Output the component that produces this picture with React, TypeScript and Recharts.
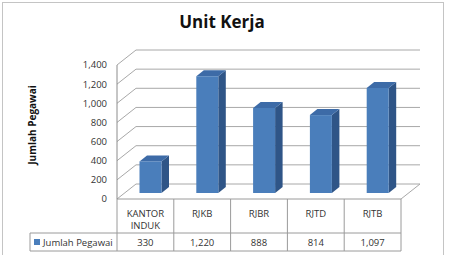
import React from "react";
import { ComposedChart, Bar, XAxis, YAxis, CartesianGrid } from "recharts";

const categories = ["KANTOR INDUK", "RJKB", "RJBR", "RJTD", "RJTB"];
const values = [330, 1220, 888, 814, 1097];
const yTicks = [0, 200, 400, 600, 800, 1000, 1200, 1400];
const seriesName = "Jumlah Pegawai";
const title = "Unit Kerja";

const data = categories.map((c, i) => ({ name: c, value: values[i] }));

const W = 449;
const H = 255;
const MARGIN = { top: 65, right: 48, bottom: 4, left: 27 };
const YAXIS_W = 90;
const XAXIS_H = 52;
const PLOT_LEFT = MARGIN.left + YAXIS_W;
const PLOT_RIGHT = W - MARGIN.right;
const PLOT_BOTTOM = H - MARGIN.bottom - XAXIS_H;
const BAND = (PLOT_RIGHT - PLOT_LEFT) / categories.length;
const DEPTH_X = 19;
const DEPTH_Y = 15;
const FONT = "'Open Sans', 'Liberation Sans', sans-serif";
const TEXT_COLOR = "#333";
const GRID = "#a8a8a8";
const AXIS = "#8c8c8c";
const TABLE_LINE = "#9a9a9a";
const FS = 9.5;

const fmt = (v: number) => v.toLocaleString("en-US");

const GridLine = (p: any) => {
  const { x1, y1, x2 } = p;
  const isFloor = Math.abs(y1 - PLOT_BOTTOM) < 0.6;
  let d = `M${x1},${y1} L${x1 + DEPTH_X},${y1 - DEPTH_Y} L${x2 + DEPTH_X},${y1 - DEPTH_Y}`;
  if (isFloor) d += ` L${x2},${y1}`;
  return <path key={p.key ?? `g-${y1}`} d={d} stroke={GRID} strokeWidth={1} fill="none" />;
};

const Bar3D = (p: any) => {
  const { x, y, width, height } = p;
  if (height == null || width == null) return null;
  const sx = 5.5;
  const sy = 6;
  const dx = 7.5;
  const dy = 6;
  const fx = x + sx;
  const fy = y - sy;
  return (
    <g>
      <polygon
        points={`${fx + width},${fy} ${fx + width + dx},${fy - dy} ${fx + width + dx},${fy + height - dy} ${fx + width},${fy + height}`}
        fill="#2f5587"
      />
      <polygon
        points={`${fx},${fy} ${fx + dx},${fy - dy} ${fx + width + dx},${fy - dy} ${fx + width},${fy}`}
        fill="#3d6ba7"
      />
      <rect x={fx} y={fy} width={width} height={height} fill="#4a7ebb" />
    </g>
  );
};

const TableTick = (props: any) => {
  const { x, y, payload } = props;
  const index = payload.index ?? props.index ?? 0;
  const half = BAND / 2;
  const left = x - half;
  const right = x + half;
  const tableRight = left + (categories.length - index) * BAND;
  const rowMid = y + 34;
  const rowBottom = y + 52;
  const lines = String(payload.value).split(" ");
  const legendLeft = 30;
  return (
    <g>
      {index === 0 && (
        <g>
          <line x1={legendLeft} y1={rowMid} x2={tableRight} y2={rowMid} stroke={TABLE_LINE} />
          <line x1={legendLeft} y1={rowBottom} x2={tableRight} y2={rowBottom} stroke={TABLE_LINE} />
          <line x1={legendLeft} y1={rowMid} x2={legendLeft} y2={rowBottom} stroke={TABLE_LINE} />
          <line x1={left} y1={y} x2={left} y2={rowBottom} stroke={TABLE_LINE} />
          <rect x={34} y={rowMid + 6} width={6} height={6} fill="#4a7ebb" />
          <text x={43} y={rowMid + 12.5} fontSize={FS} fontFamily={FONT} fill={TEXT_COLOR}>
            {seriesName}
          </text>
        </g>
      )}
      <line x1={right} y1={y} x2={right} y2={rowBottom} stroke={TABLE_LINE} />
      {lines.map((l, i) => (
        <text
          key={i}
          x={x}
          y={y + 17.5 + i * 12}
          textAnchor="middle"
          fontSize={FS}
          fontFamily={FONT}
          fill={TEXT_COLOR}
        >
          {l}
        </text>
      ))}
      <text x={x} y={rowMid + 12.5} textAnchor="middle" fontSize={FS} fontFamily={FONT} fill={TEXT_COLOR}>
        {fmt(values[index])}
      </text>
    </g>
  );
};

export default function App() {
  return (
    <div style={{ position: "absolute", left: 0, top: 0, width: W, height: H, background: "#fff" }}>
      <ComposedChart width={W} height={H} data={data} margin={MARGIN}>
        <rect x={2.5} y={2.5} width={441} height={270} fill="none" stroke="#c4c4c4" />
        <text
          x={222}
          y={28}
          textAnchor="middle"
          fontSize={17}
          fontWeight="bold"
          fontFamily={FONT}
          fill="#111"
        >
          {title}
        </text>
        <text
          x={0}
          y={0}
          transform={`translate(36,125) rotate(-90)`}
          textAnchor="middle"
          fontSize={10}
          fontWeight="bold"
          fontFamily={FONT}
          fill="#111"
        >
          {seriesName}
        </text>
        <CartesianGrid vertical={false} horizontal={GridLine as any} />
        <XAxis
          dataKey="name"
          height={XAXIS_H}
          interval={0}
          tickLine={false}
          tickSize={0}
          tickMargin={0}
          axisLine={{ stroke: TABLE_LINE }}
          tick={<TableTick />}
        />
        <YAxis
          width={YAXIS_W}
          domain={[0, 1400]}
          ticks={yTicks}
          interval={0}
          tickLine={false}
          tickSize={0}
          tickMargin={10}
          axisLine={{ stroke: AXIS }}
          tickFormatter={fmt}
          tick={{ fontSize: FS, fontFamily: FONT, fill: TEXT_COLOR }}
        />
        <Bar dataKey="value" name={seriesName} barSize={22} shape={<Bar3D />} isAnimationActive={false} />
      </ComposedChart>
    </div>
  );
}
